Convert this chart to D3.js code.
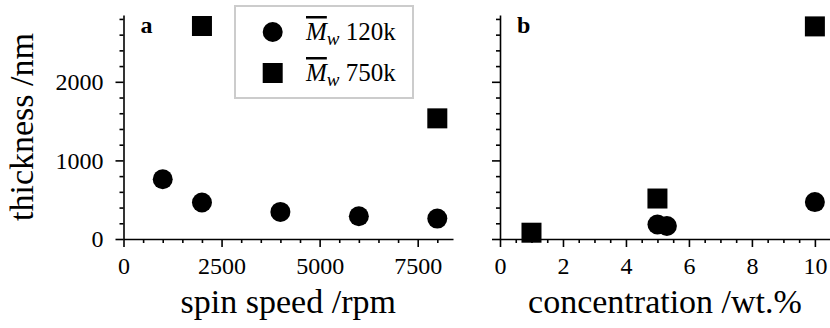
<!DOCTYPE html>
<html>
<head>
<meta charset="utf-8">
<script src="https://cdn.jsdelivr.net/npm/d3@7"></script>
<style>
  body { margin: 0; background: #fff; }
  svg text { font-family: "Liberation Serif", "Times New Roman", serif; }
</style>
</head>
<body>
<div id="chart"></div>
<script>
// panel a: thickness vs spin speed
const speedRpm120k = [1000, 2000, 4000, 6000, 8000];
const speedThick120k = [760, 465, 345, 290, 260];
const speedRpm750k = [2000, 8000];
const speedThick750k = [2710, 1535];

// panel b: thickness vs concentration
const concWt120k = [5, 5.3, 10];
const concThick120k = [185, 165, 470];
const concWt750k = [1, 5, 10];
const concThick750k = [80, 515, 2705];

const yMajorTicks = [0, 1000, 2000];
const speedMajorTicks = [0, 2500, 5000, 7500];
const concMajorTicks = [0, 2, 4, 6, 8, 10];
const legendLabels = ['120k', '750k'];

const width = 830;
const height = 328;
const plotTop = 15;
const plotBottom = 239;
const fontSize = 24;
const labelSize = 34;

const svg = d3.select('#chart')
  .append('svg')
  .attr('width', width)
  .attr('height', height);

const yScale = d3.scaleLinear().domain([0, 2850]).range([plotBottom, plotTop]);

function drawPanel(left, right, xMax, xMajor, xMinorStep, showYLabels, letter, xLabel, s120, t120, s750, t750) {
  const xScale = d3.scaleLinear().domain([0, xMax]).range([left, right]);
  const xMinor = d3.range(0, xMax, xMinorStep).filter(v => !xMajor.includes(v));
  const yMinor = d3.range(0, 2850, 200).filter(v => !yMajorTicks.includes(v));

  const g = svg.append('g');

  // minor ticks first
  g.append('g')
    .attr('transform', `translate(0, ${plotBottom})`)
    .call(d3.axisBottom(xScale).tickValues(xMinor).tickSize(4).tickFormat(''))
    .call(a => a.select('.domain').remove());
  g.append('g')
    .attr('transform', `translate(${left}, 0)`)
    .call(d3.axisLeft(yScale).tickValues(yMinor).tickSize(4).tickFormat(''))
    .call(a => a.select('.domain').remove());

  g.append('g')
    .attr('transform', `translate(0, ${plotBottom})`)
    .call(d3.axisBottom(xScale).tickValues(xMajor).tickSize(8).tickSizeOuter(0).tickPadding(10)
      .tickFormat(d3.format('d')));
  g.append('g')
    .attr('transform', `translate(${left}, 0)`)
    .call(d3.axisLeft(yScale).tickValues(yMajorTicks).tickSize(8).tickSizeOuter(0).tickPadding(12)
      .tickFormat(showYLabels ? d3.format('d') : ''));

  g.selectAll('g').attr('font-family', null);
  g.selectAll('.tick line, .domain')
    .attr('stroke', '#000')
    .attr('stroke-width', 1.6);
  g.selectAll('.tick text')
    .attr('font-size', fontSize)
    .attr('fill', '#000');

  // markers
  g.append('g').selectAll('circle')
    .data(s120.map((v, i) => [v, t120[i]]))
    .join('circle')
    .attr('cx', d => xScale(d[0]))
    .attr('cy', d => yScale(d[1]))
    .attr('r', 10)
    .attr('fill', '#000');
  g.append('g').selectAll('rect')
    .data(s750.map((v, i) => [v, t750[i]]))
    .join('rect')
    .attr('x', d => xScale(d[0]) - 10)
    .attr('y', d => yScale(d[1]) - 10)
    .attr('width', 20)
    .attr('height', 20)
    .attr('fill', '#000');

  g.append('text')
    .attr('x', left + 17)
    .attr('y', 33)
    .attr('font-size', fontSize)
    .attr('font-weight', 700)
    .text(letter);

  g.append('text')
    .attr('x', (left + right) / 2)
    .attr('y', 313)
    .attr('text-anchor', 'middle')
    .attr('font-size', labelSize)
    .text(xLabel);
}

drawPanel(123.5, 453, 8400, speedMajorTicks, 500, true, 'a', 'spin speed /rpm',
  speedRpm120k, speedThick120k, speedRpm750k, speedThick750k);
drawPanel(500, 830, 10.48, concMajorTicks, 0.5, false, 'b', 'concentration /wt.%',
  concWt120k, concThick120k, concWt750k, concThick750k);

svg.append('text')
  .attr('transform', `translate(33, ${(plotTop + plotBottom) / 2}) rotate(-90)`)
  .attr('text-anchor', 'middle')
  .attr('font-size', labelSize)
  .text('thickness /nm');

// legend
const legend = svg.append('g');
legend.append('rect')
  .attr('x', 235).attr('y', 6)
  .attr('width', 178).attr('height', 92)
  .attr('fill', '#fff')
  .attr('stroke', '#cccccc')
  .attr('stroke-width', 2);

const rows = legend.selectAll('g.row')
  .data(legendLabels)
  .join('g')
  .attr('class', 'row')
  .attr('transform', (d, i) => `translate(0, ${32 + i * 41})`);
rows.filter((d, i) => i === 0).append('circle')
  .attr('cx', 272.7).attr('cy', 0).attr('r', 10).attr('fill', '#000');
rows.filter((d, i) => i === 1).append('rect')
  .attr('x', 262.7).attr('y', -10).attr('width', 20).attr('height', 20).attr('fill', '#000');

const lt = rows.append('text')
  .attr('x', 306)
  .attr('y', 8)
  .attr('font-size', 25);
lt.append('tspan')
  .attr('font-style', 'italic')
  .attr('text-decoration', 'overline')
  .text('M');
lt.append('tspan')
  .attr('font-style', 'italic')
  .attr('font-size', 19)
  .attr('dy', 5)
  .text('w');
lt.append('tspan')
  .attr('dy', -5)
  .text(d => '\u00a0' + d);
</script>
</body>
</html>
